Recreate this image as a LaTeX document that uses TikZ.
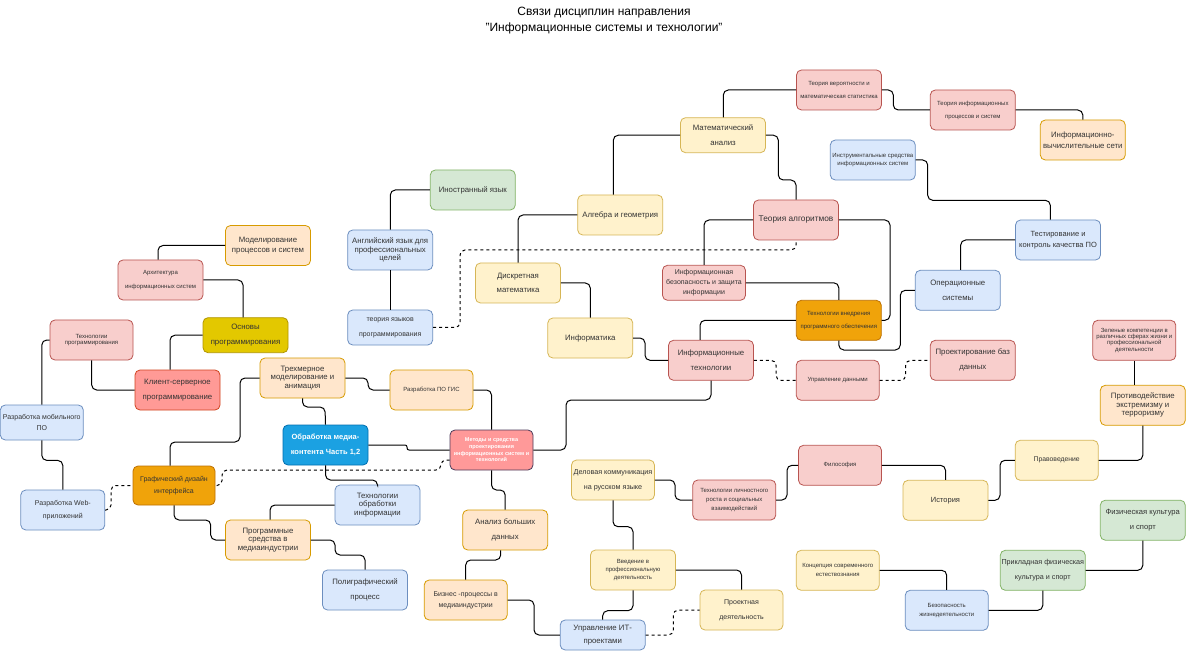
\documentclass[tikz,border=0pt]{standalone}
\usepackage{fontspec}
\setmainfont{Liberation Sans}
\definecolor{txtc}{HTML}{333333}
\definecolor{redF}{HTML}{F8CECC}\definecolor{redD}{HTML}{B85450}
\definecolor{bluF}{HTML}{DAE8FC}\definecolor{bluD}{HTML}{6C8EBF}
\definecolor{grnF}{HTML}{D5E8D4}\definecolor{grnD}{HTML}{82B366}
\definecolor{yelF}{HTML}{FFF2CC}\definecolor{yelD}{HTML}{D6B656}
\definecolor{ornF}{HTML}{FFE6CC}\definecolor{ornD}{HTML}{D79B00}
\definecolor{dorF}{HTML}{F0A30A}\definecolor{dorD}{HTML}{BD7000}
\definecolor{olvF}{HTML}{E3C800}\definecolor{olvD}{HTML}{B09500}
\definecolor{mbF}{HTML}{1BA1E2}\definecolor{mbD}{HTML}{006EAF}
\definecolor{ksF}{HTML}{FF9A96}\definecolor{ksD}{HTML}{D0431F}
\definecolor{mtF}{HTML}{FF9999}\definecolor{mtD}{HTML}{4B3A5A}
\newcommand\setfs[2]{\fontsize{#1}{#2}\selectfont}
\begin{document}
\begin{tikzpicture}[x=1pt,y=-1pt,
  box/.style={draw, rounded corners=5pt, line width=0.8pt, align=center, inner sep=1pt,
    text=txtc, minimum width=85pt, minimum height=40pt, font=\setfs{7.8}{10}},
  cr/.style={box, fill=redF, draw=redD},
  cb/.style={box, fill=bluF, draw=bluD},
  cg/.style={box, fill=grnF, draw=grnD},
  cy/.style={box, fill=yelF, draw=yelD},
  co/.style={box, fill=ornF, draw=ornD},
  cdo/.style={box, fill=dorF, draw=dorD},
  col/.style={box, fill=olvF, draw=olvD},
  cmb/.style={box, fill=mbF, draw=mbD, text=white},
  cks/.style={box, fill=ksF, draw=ksD},
  cmeth/.style={box, fill=mtF, draw=mtD, text=white},
  conn/.style={draw=black, line width=1pt, rounded corners=5pt},
  dconn/.style={conn, dash pattern=on 3pt off 3pt},
  ttl/.style={font=\setfs{12}{14}, text=black, inner sep=0pt}]
\useasboundingbox (0,0) rectangle (1186,660);
\fill[white] (0,0) rectangle (1186,660);

\node[ttl] (title1) at (604,13) {Связи дисциплин направления};
\node[ttl] (title2) at (604,28) {"Информационные системы и технологии"};

% nodes
\node[cr, font=\setfs{6}{13}] (tv) at (839,90) {Теория вероятности и\\математическая статистика};
\node[cr, font=\setfs{6}{13}] (tip) at (972.8,110) {Теория информационных\\процессов и систем};
\node[co, font=\setfs{7.8}{11}] (ivs) at (1082.8,140) {Информационно-\\вычислительные сети};
\node[cy, minimum height=35pt, font=\setfs{7.8}{15}] (matan) at (723,135.2) {Математический\\анализ};
\node[cb, font=\setfs{6}{8}] (instr) at (872.8,160) {Инструментальные средства\\информационных систем};
\node[cg] (inyaz) at (472.8,190) {Иностранный язык};
\node[cy] (alg) at (620.2,215) {Алгебра и геометрия};
\node[cr, font=\setfs{8.3}{10}] (talg) at (796,220) {Теория алгоритмов};
\node[cb, font=\setfs{7.5}{11}] (test) at (1058,240) {Тестирование и\\контроль качества ПО};
\node[co, font=\setfs{7.8}{10.7}] (model) at (268,245.5) {Моделирование\\процессов и систем};
\node[cb, font=\setfs{7.8}{8.7}] (angl) at (390.2,250) {Английский язык для\\профессиональных\\целей};
\node[cr, font=\setfs{6}{14.7}] (arch) at (160.5,280) {Архитектура\\информационных систем};
\node[cy, font=\setfs{7.8}{14.3}] (discr) at (518,283) {Дискретная\\математика};
\node[cr, minimum width=83pt, minimum height=35pt, font=\setfs{7}{10}] (ibez) at (704,282.8) {Информационная\\безопасность и защита\\информации};
\node[cb, font=\setfs{7.8}{15}] (os) at (957.8,290.3) {Операционные\\системы};
\node[cdo, font=\setfs{6}{13.3}] (tvpo) at (838.8,320.3) {Технологии внедрения\\программного обеспечения};
\node[cr, minimum width=83pt, font=\setfs{6}{6.8}] (tprog) at (91.5,340) {Технологии\\программирования};
\node[col, minimum height=35pt, font=\setfs{7.8}{15}] (osnov) at (245.5,335.2) {Основы\\программирования};
\node[cb, minimum height=35pt, font=\setfs{7}{14.7}] (tyap) at (390.2,327.5) {теория языков\\программирования};
\node[cy] (infor) at (590.3,338) {Информатика};
\node[cr, minimum width=83pt, font=\setfs{6}{6.4}] (green) at (1134.3,340.3) {Зеленые компетенции в\\различных сферах жизни и\\профессиональной\\деятельности};
\node[cr, font=\setfs{7.8}{15}] (it) at (711,360.3) {Информационные\\технологии};
\node[cr, font=\setfs{7.8}{15}] (pbd) at (972.8,360.3) {Проектирование баз\\данных};
\node[co, font=\setfs{7.8}{8.5}] (tri) at (302.5,378) {Трехмерное\\моделирование и\\анимация};
\node[cks, font=\setfs{7.8}{15}] (ks) at (177.5,390) {Клиент-серверное\\программирование};
\node[cr, minimum width=83pt, font=\setfs{6}{8}] (ud) at (837.7,380.3) {Управление данными};
\node[co, minimum width=83pt, font=\setfs{6}{8}] (gis) at (431.5,390) {Разработка ПО ГИС};
\node[co, font=\setfs{7.8}{8.5}] (prot) at (1142.8,405.3) {Противодействие\\экстремизму и\\терроризму};
\node[cb, minimum width=83pt, minimum height=35pt, font=\setfs{7}{11}] (mob) at (41.8,422.5) {Разработка мобильного\\ПО};
\node[cmb, font=\bfseries\setfs{7.5}{14.7}] (media) at (325.5,445) {Обработка медиа-\\контента Часть 1,2};
\node[cmeth, minimum width=83pt, font=\bfseries\setfs{5.5}{6.7}] (methods) at (491.5,450) {Методы и средства\\проектирования\\информационных систем и\\технологий};
\node[cy, minimum width=83pt, font=\setfs{7.2}{15.3}] (delov) at (613,480) {Деловая коммуникация\\на русском языке};
\node[cr, minimum width=83pt, font=\setfs{6}{8}] (filos) at (840,465.3) {Философия};
\node[cy, minimum width=83pt, font=\setfs{6.8}{8}] (pravo) at (1056.7,460.3) {Правоведение};
\node[cdo, minimum width=82pt, minimum height=39pt, font=\setfs{7}{12.7}] (graf) at (174,485.5) {Графический дизайн\\интерфейса};
\node[cr, minimum width=83pt, font=\setfs{6}{9}] (tlr) at (734.3,500) {Технологии личностного\\роста и социальных\\взаимодействий};
\node[cy, font=\setfs{7.5}{8}] (hist) at (945.5,500.3) {История};
\node[cb, font=\setfs{7.8}{8.5}] (tobr) at (377.5,505) {Технологии\\обработки\\информации};
\node[cb, minimum width=84pt, font=\setfs{7}{13}] (web) at (62.8,510) {Разработка Web-\\приложений};
\node[cg, font=\setfs{7.6}{15}] (fk) at (1142.8,520.2) {Физическая культура\\и спорт};
\node[co, font=\setfs{7.8}{15}] (abd) at (505.2,530) {Анализ больших\\данных};
\node[co, font=\setfs{7.8}{8.3}] (psm) at (268,540) {Программные\\средства в\\медиаиндустрии};
\node[cy, font=\setfs{6}{7.8}] (vved) at (633,570) {Введение в\\профессиональную\\деятельность};
\node[cy, minimum width=83pt, font=\setfs{6}{9}] (kse) at (837.7,570.3) {Концепция современного\\естествознания};
\node[cg, font=\setfs{7.2}{15}] (pfk) at (1042.8,570.3) {Прикладная физическая\\культура и спорт};
\node[cb, font=\setfs{7.8}{15}] (poli) at (365,590) {Полиграфический\\процесс};
\node[co, minimum width=83pt, font=\setfs{7}{10.7}] (biz) at (465.7,600) {Бизнес -процессы в\\медиаиндустрии};
\node[cy, minimum width=83pt, font=\setfs{7}{15}] (proekt) at (741.5,610) {Проектная\\деятельность};
\node[cb, minimum width=83pt, font=\setfs{6}{9}] (bzh) at (946.7,610.3) {Безопасность\\жизнедеятельности};
\node[cb, minimum height=30pt, font=\setfs{7.8}{12.7}] (uitp) at (602.7,635) {Управление ИТ-\\проектами};

% connectors
\draw[conn] (158,0 |- arch.north) |- (model.west);
\draw[conn] (arch.east) -| (243,0 |- osnov.north);
\draw[conn] (tprog.west) -| (mob.north);
\draw[conn] (91.7,0 |- tprog.south) |- (ks.west);
\draw[conn] (170,0 |- ks.north) |- (osnov.west);
\draw[conn] (tri.west) -| (240,442) -| (170,0 |- graf.north);
\draw[conn] (tri.south) |- (325,407) -- (media.north);
\draw[conn] (tri.east) -| (368,390) -- (gis.west);
\draw[conn] (390.3,0 |- angl.north) |- (inyaz.west);
\draw[conn] (angl.south) -- (tyap.north);
\draw[dconn] (tyap.east) -| (460,250) -| (talg.south);
\draw[conn] (alg.west) -| (discr.north);
\draw[conn] (613.3,0 |- alg.north) |- (matan.west);
\draw[conn] (discr.east) -| (infor.north);
\draw[conn] (infor.east) -| (645,360.3) -- (it.west);
\draw[conn] (700,0 |- it.north) |- (tvpo.west);
\draw[conn] (it.south) |- (566,400) |- (methods.east);
\draw[conn, rounded corners=2pt] (media.east) -| (407,450) -- (methods.west);
\draw[dconn] ([yshift=-10pt]methods.west) -| (441,470) -| (222,485.5) -- (graf.west -| graf.east);
\draw[conn] (gis.east) -| (methods.north);
\draw[conn] (methods.south) |- (505.2,490) -- (abd.north);
\draw[conn] (500.7,0 |- abd.south) |- (465.7,560) -- (biz.north);
\draw[conn] (biz.east) -| (534,635) -- (uitp.west);
\draw[conn] (uitp.north) |- (633,610.7) -- (vved.south);
\draw[dconn] (uitp.east) -| (673.3,610) -- (proekt.west);
\draw[conn] (vved.north) |- (613,526.7) -- (delov.south);
\draw[conn] (vved.east) -| (proekt.north);
\draw[conn] (delov.east) -| (675,500) -- (tlr.west);
\draw[conn] (tlr.east) -| (787,465.3) -- (filos.west);
\draw[conn] (filos.east) -| (hist.north);
\draw[conn] (hist.east) -| (1000,460.3) -- (pravo.west);
\draw[conn] (pravo.east) -| (prot.south);
\draw[conn] (green.south) -- (green.south |- prot.north);
\draw[conn] (kse.east) -| (bzh.north);
\draw[conn] (bzh.east) -| (pfk.south);
\draw[conn] (pfk.east) -| (fk.south);
\draw[conn] (tobr.west) -| (270,0 |- psm.north);
\draw[conn] (media.south) |- (377.5,480) -- (tobr.north);
\draw[conn] (graf.south) |- (210.7,520) |- (psm.west);
\draw[conn] (psm.east) -| (335,555) -| (poli.north);
\draw[conn] (mob.south) -- ++(0,20) -| (web.north);
\draw[dconn] (web.east) -| (111,485.5) -- (graf.west);
\draw[conn] (723.3,0 |- matan.north) |- (tv.west);
\draw[conn] (matan.east) -| (778.3,180) -| (talg.north);
\draw[conn] (tv.east) -| (893.3,110) -- (tip.west);
\draw[conn] (tip.east) -| (ivs.north);
\draw[conn] (instr.east) -| (927.7,200.3) -| (1050.3,0 |- test.north);
\draw[conn] (test.west) -| (960.7,0 |- os.north);
\draw[conn] (talg.east) -| (890,320.3) -- (tvpo.east);
\draw[conn] (talg.west) -| (ibez.north);
\draw[conn] (ibez.east) -| (tvpo.north);
\draw[conn] (tvpo.south) |- (900.3,350) |- (os.west);
\draw[dconn] (it.east) -| (776,380.3) -- (ud.west);
\draw[dconn] (ud.east) -| (905.7,360.3) -- (pbd.west);
\end{tikzpicture}
\end{document}
